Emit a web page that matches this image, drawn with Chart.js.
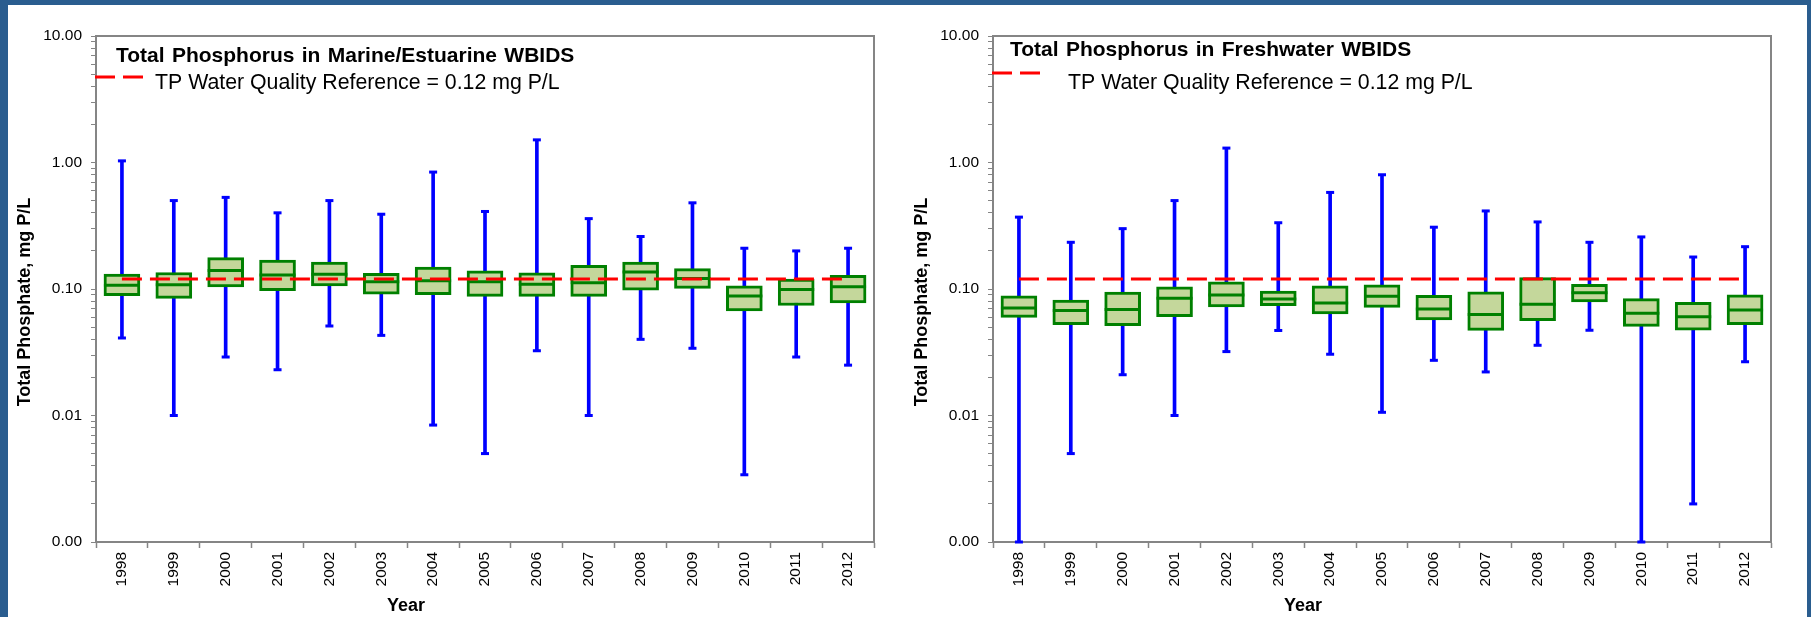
<!DOCTYPE html>
<html>
<head>
<meta charset="utf-8">
<title>Total Phosphorus in WBIDS, 1998–2012</title>
<script src="https://cdn.jsdelivr.net/npm/chart.js@4.4.1/dist/chart.umd.min.js"></script>
<style>
  html, body { margin: 0; padding: 0; width: 1811px; height: 617px; overflow: hidden; background: #2A5D8F; }
  #sheet { position: absolute; left: 8px; top: 5px; width: 1799px; height: 612px; background: #ffffff; }
  .panel { position: absolute; top: 0; }
  canvas { display: block; }
</style>
</head>
<body>
<div id="sheet">
  <div class="panel" style="left:0; width:880px; height:612px;"><canvas id="marine" width="880" height="612"></canvas></div>
  <div class="panel" style="left:880px; width:919px; height:612px;"><canvas id="fresh" width="919" height="612"></canvas></div>
</div>
<script>
// ---- Data -------------------------------------------------------------
const years = ['1998','1999','2000','2001','2002','2003','2004','2005','2006','2007','2008','2009','2010','2011','2012'];

// Marine / estuarine WBIDs, total phosphorus (mg P/L)
const marineMax    = [1.03, 0.50, 0.53, 0.40, 0.50, 0.39, 0.84, 0.41, 1.51, 0.36, 0.26, 0.48, 0.21, 0.20, 0.21];
const marineQ3     = [0.131, 0.135, 0.177, 0.169, 0.163, 0.133, 0.149, 0.139, 0.134, 0.154, 0.163, 0.145, 0.106, 0.120, 0.128];
const marineMedian = [0.107, 0.108, 0.140, 0.129, 0.131, 0.114, 0.116, 0.114, 0.109, 0.112, 0.136, 0.121, 0.088, 0.099, 0.104];
const marineQ1     = [0.0885, 0.0843, 0.104, 0.097, 0.106, 0.091, 0.090, 0.0875, 0.0875, 0.0875, 0.098, 0.101, 0.067, 0.074, 0.0775];
const marineMin    = [0.041, 0.010, 0.029, 0.023, 0.051, 0.043, 0.0084, 0.0050, 0.0325, 0.010, 0.040, 0.034, 0.0034, 0.029, 0.025];

// Freshwater WBIDs, total phosphorus (mg P/L)
const freshMax    = [0.37, 0.234, 0.30, 0.50, 1.30, 0.334, 0.58, 0.80, 0.308, 0.414, 0.339, 0.234, 0.258, 0.179, 0.216];
const freshQ3     = [0.0885, 0.0818, 0.0946, 0.104, 0.114, 0.0964, 0.106, 0.108, 0.089, 0.095, 0.123, 0.109, 0.084, 0.0785, 0.090];
const freshMedian = [0.0708, 0.0675, 0.069, 0.0844, 0.0897, 0.0833, 0.0775, 0.0875, 0.0695, 0.063, 0.0757, 0.0935, 0.0643, 0.0604, 0.0682];
const freshQ1     = [0.0597, 0.0523, 0.0513, 0.0604, 0.0721, 0.0738, 0.0634, 0.0716, 0.0569, 0.0471, 0.0561, 0.0789, 0.0507, 0.0472, 0.0523];
const freshMin    = [0.001, 0.005, 0.021, 0.010, 0.032, 0.047, 0.0305, 0.0106, 0.0273, 0.0221, 0.0359, 0.0472, 0.001, 0.002, 0.0266];

// Water quality reference value (mg P/L)
const tpReference = 0.12;

// Y axis: labelled decades and the minor multipliers between them
const yTickValues = [0.001, 0.01, 0.1, 1, 10];
const yTickLabels = ['0.00', '0.01', '0.10', '1.00', '10.00'];
const minorMultipliers = [2, 3, 4, 5, 6, 7, 8, 9];

// ---- Styling ----------------------------------------------------------
const FONT = "'Liberation Sans', Arial, Helvetica, sans-serif";
const AXIS_GREY = '#858585';
const BOX_FILL = '#C4D79B';
const BOX_EDGE = '#008000';
const WHISKER = '#0000FF';
const REF_RED = '#FF0000';
Chart.defaults.font.family = FONT;
Chart.defaults.color = '#000000';

// Decorations: whisker caps, medians, plot frame, titles and the reference key
const boxDecor = {
  id: 'boxDecor',
  afterDatasetDraw(chart, args, opts) {
    const ds = chart.data.datasets[args.index];
    const ctx = chart.ctx;
    const yScale = chart.scales.y;
    const area = chart.chartArea;
    ctx.save();
    ctx.beginPath();
    ctx.rect(area.left, area.top, area.right - area.left, area.bottom - area.top + 2);
    ctx.clip();
    if (ds.role === 'whisker') {
      ctx.fillStyle = WHISKER;
      args.meta.data.forEach((el, i) => {
        const [lo, hi] = ds.data[i];
        [lo, hi].forEach(v => {
          const py = yScale.getPixelForValue(v);
          ctx.fillRect(el.x - 4, py - 1.5, 8, 3);
        });
      });
    } else if (ds.role === 'box') {
      ctx.strokeStyle = BOX_EDGE;
      ctx.lineWidth = 3;
      args.meta.data.forEach((el, i) => {
        const py = yScale.getPixelForValue(ds.medians[i]);
        const half = el.width / 2;
        ctx.beginPath();
        ctx.moveTo(el.x - half, py);
        ctx.lineTo(el.x + half, py);
        ctx.stroke();
      });
    }
    ctx.restore();
  },
  afterDraw(chart, args, opts) {
    const ctx = chart.ctx;
    const a = chart.chartArea;
    ctx.save();
    // top and right edges of the plot frame
    ctx.strokeStyle = AXIS_GREY;
    ctx.lineWidth = 2;
    ctx.beginPath();
    ctx.moveTo(a.left, a.top);
    ctx.lineTo(a.right, a.top);
    ctx.lineTo(a.right, a.bottom);
    ctx.stroke();

    // chart title
    ctx.fillStyle = '#000000';
    ctx.textAlign = 'left';
    ctx.textBaseline = 'alphabetic';
    ctx.font = 'bold 21px ' + FONT;
    if ('wordSpacing' in ctx) ctx.wordSpacing = '1.5px';
    ctx.fillText(opts.title, a.left + opts.titleDx, opts.titleBaseline);
    if ('wordSpacing' in ctx) ctx.wordSpacing = '0px';

    // reference line key
    ctx.strokeStyle = REF_RED;
    ctx.lineWidth = 3;
    ctx.setLineDash([20, 8]);
    ctx.beginPath();
    ctx.moveTo(a.left - 1, opts.keyLineY);
    ctx.lineTo(a.left + 47, opts.keyLineY);
    ctx.stroke();
    ctx.setLineDash([]);
    ctx.font = '21.3px ' + FONT;
    ctx.fillText(opts.keyText, a.left + opts.keyTextDx, opts.keyBaseline);

    // axis titles
    ctx.font = 'bold 18px ' + FONT;
    ctx.textAlign = 'center';
    ctx.fillText(opts.xTitle, a.left + 310, 606);
    ctx.translate(a.left - 66, 297);
    ctx.rotate(-Math.PI / 2);
    ctx.fillText(opts.yTitle, 0, 0);
    ctx.restore();
  }
};

function logTicks() {
  const ticks = [];
  yTickValues.forEach((d, k) => {
    ticks.push({ value: d, major: true });
    if (k < yTickValues.length - 1) {
      minorMultipliers.forEach(m => ticks.push({ value: Number((m * d).toPrecision(6)), major: false }));
    }
  });
  return ticks;
}

function makeChart(canvasId, q) {
  const boxes = years.map((_, i) => [q.q1[i], q.q3[i]]);
  const whiskers = years.map((_, i) => [q.min[i], q.max[i]]);
  const refLine = years.map(() => tpReference);
  return new Chart(document.getElementById(canvasId), {
    type: 'bar',
    data: {
      labels: years,
      datasets: [
        {
          type: 'line', label: 'TP Water Quality Reference', data: refLine, order: 0,
          borderColor: REF_RED, borderWidth: 3, borderDash: [20, 8], pointRadius: 0,
          fill: false, tension: 0
        },
        {
          role: 'box', label: 'Interquartile range', data: boxes, medians: q.median, order: 1,
          backgroundColor: BOX_FILL, borderColor: BOX_EDGE, borderWidth: 3, borderSkipped: false,
          barThickness: 36, grouped: false
        },
        {
          role: 'whisker', label: 'Range', data: whiskers, order: 2,
          backgroundColor: WHISKER, borderWidth: 0, barThickness: 3, grouped: false
        }
      ]
    },
    options: {
      responsive: false,
      animation: false,
      events: [],
      layout: { padding: { left: 0, top: 31, right: q.padRight, bottom: 0 } },
      plugins: {
        legend: { display: false },
        tooltip: { enabled: false },
        boxDecor: q.decor
      },
      scales: {
        x: {
          afterFit(scale) { scale.height = 75; },
          grid: { offset: true, drawOnChartArea: false, drawTicks: true, tickLength: 6, tickColor: AXIS_GREY, tickWidth: 1.5 },
          border: { color: AXIS_GREY, width: 2 },
          ticks: { autoSkip: false, minRotation: 90, maxRotation: 90, padding: 4, color: '#000', font: { size: 15.5 } }
        },
        y: {
          type: 'logarithmic',
          min: 0.001,
          max: 10,
          afterBuildTicks(scale) { scale.ticks = logTicks(); },
          afterFit(scale) { scale.width = q.yWidth; },
          grid: { drawOnChartArea: false, drawTicks: true, tickLength: 5, tickColor: AXIS_GREY, tickWidth: 1 },
          border: { color: AXIS_GREY, width: 2 },
          ticks: {
            autoSkip: false, padding: 9, color: '#000', font: { size: 15.5 },
            callback(value) {
              const k = yTickValues.findIndex(v => Math.abs(Math.log10(v) - Math.log10(value)) < 1e-6);
              return k >= 0 ? yTickLabels[k] : '';
            }
          }
        }
      }
    },
    plugins: [boxDecor]
  });
}

makeChart('marine', {
  min: marineMin, q1: marineQ1, median: marineMedian, q3: marineQ3, max: marineMax,
  yWidth: 88, padRight: 14,
  decor: {
    title: 'Total Phosphorus in Marine/Estuarine WBIDS', titleDx: 20, titleBaseline: 57,
    keyText: 'TP Water Quality Reference = 0.12 mg P/L', keyTextDx: 59, keyBaseline: 84, keyLineY: 72,
    xTitle: 'Year', yTitle: 'Total Phosphate, mg P/L'
  }
});

makeChart('fresh', {
  min: freshMin, q1: freshQ1, median: freshMedian, q3: freshQ3, max: freshMax,
  yWidth: 105, padRight: 36,
  decor: {
    title: 'Total Phosphorus in Freshwater WBIDS', titleDx: 17, titleBaseline: 51,
    keyText: 'TP Water Quality Reference = 0.12 mg P/L', keyTextDx: 75, keyBaseline: 84, keyLineY: 68,
    xTitle: 'Year', yTitle: 'Total Phosphate, mg P/L'
  }
});
</script>
</body>
</html>
